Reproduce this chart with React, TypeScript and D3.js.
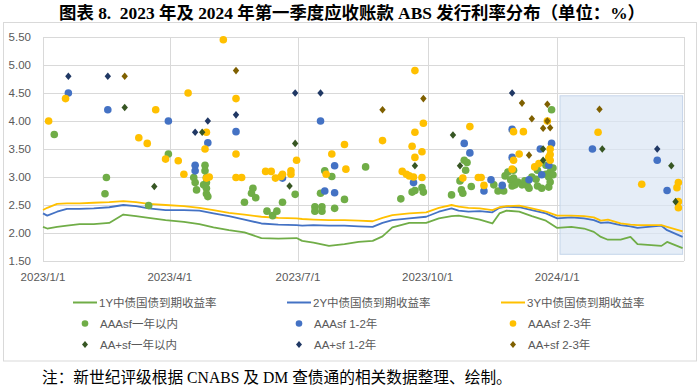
import React from 'react';
import * as d3 from 'd3';

// ---------- data ----------
const lineDates = ['2023-01-01','2023-01-04','2023-01-11','2023-01-18','2023-01-27','2023-02-06','2023-02-17','2023-02-27','2023-03-08','2023-03-17','2023-03-29','2023-04-11','2023-04-22','2023-05-02','2023-05-13','2023-05-24','2023-06-05','2023-06-17','2023-06-30','2023-07-04','2023-07-12','2023-07-23','2023-08-03','2023-08-13','2023-08-23','2023-08-30','2023-09-06','2023-09-18','2023-09-30','2023-10-09','2023-10-18','2023-10-23','2023-10-30','2023-11-07','2023-11-16','2023-11-21','2023-11-26','2023-12-05','2023-12-14','2023-12-24','2024-01-01','2024-01-11','2024-01-20','2024-01-27','2024-02-01','2024-02-06','2024-02-15','2024-02-22','2024-02-27','2024-03-15','2024-03-19','2024-03-30'];
const yield1Y = [2.11,2.08,2.11,2.13,2.16,2.16,2.18,2.33,2.30,2.27,2.23,2.20,2.16,2.10,2.05,2.01,1.91,1.90,1.91,1.86,1.83,1.77,1.80,1.84,1.86,1.94,2.10,2.18,2.18,2.26,2.30,2.31,2.28,2.24,2.17,2.35,2.40,2.38,2.30,2.22,2.09,2.11,2.08,2.02,1.93,1.88,1.88,1.93,1.80,1.77,1.84,1.73];
const yield2Y = [2.35,2.31,2.38,2.43,2.43,2.44,2.46,2.50,2.48,2.44,2.41,2.41,2.40,2.35,2.30,2.24,2.17,2.15,2.14,2.13,2.14,2.13,2.13,2.12,2.11,2.18,2.23,2.26,2.29,2.38,2.44,2.40,2.38,2.39,2.37,2.45,2.47,2.46,2.41,2.35,2.26,2.28,2.26,2.23,2.18,2.19,2.14,2.12,2.09,2.13,2.05,1.93];
const yield3Y = [2.41,2.45,2.52,2.53,2.53,2.54,2.55,2.57,2.55,2.52,2.50,2.48,2.45,2.41,2.36,2.33,2.29,2.27,2.26,2.25,2.24,2.23,2.23,2.22,2.21,2.27,2.32,2.35,2.37,2.45,2.50,2.47,2.45,2.44,2.41,2.46,2.48,2.49,2.44,2.38,2.31,2.31,2.30,2.28,2.22,2.24,2.17,2.15,2.14,2.14,2.11,2.03];

const aaaWithin1Y: [string, number][] = [
  ['2023-01-09',3.76],['2023-02-15',2.99],['2023-02-14',2.70],['2023-03-17',2.49],['2023-03-31',3.41],
  ['2023-04-18',2.99],['2023-04-19',2.90],['2023-04-20',2.77],['2023-04-26',3.21],['2023-04-26',3.11],
  ['2023-04-27',2.99],['2023-04-27',2.90],['2023-04-25',2.86],['2023-04-27',2.80],['2023-04-27',2.70],
  ['2023-04-28',2.65],['2023-05-24',2.55],['2023-05-30',2.80],['2023-05-29',2.71],['2023-06-01',2.63],
  ['2023-06-09',2.39],['2023-06-13',2.31],['2023-06-16',2.39],['2023-06-20',2.55],['2023-06-29',2.69],
  ['2023-07-13',2.47],['2023-07-13',2.39],['2023-07-18',2.47],['2023-07-18',2.39],['2023-07-17',2.71],
  ['2023-07-20',3.11],['2023-07-25',3.01],['2023-07-27',2.44],['2023-08-03',2.60],['2023-08-18',3.18],
  ['2023-09-12',2.61],['2023-09-20',2.73],['2023-09-22',2.76],['2023-09-27',2.81],['2023-09-28',2.73],
  ['2023-10-18',2.68],['2023-10-24',2.93],['2023-10-25',2.77],['2023-10-26',2.71],['2023-10-27',3.30],
  ['2023-10-29',3.26],['2023-10-28',3.12],['2023-11-01',2.83],['2023-11-17',2.86],['2023-11-20',2.75],
  ['2023-11-24',2.75],['2023-11-25',3.02],['2023-11-27',3.09],['2023-11-29',2.95],['2023-11-30',2.84],
  ['2023-12-01',2.98],['2023-12-01',3.12],['2023-12-02',2.86],['2023-12-04',2.91],['2023-12-07',2.86],
  ['2023-12-09',2.93],['2023-12-11',2.84],['2023-12-12',2.80],['2023-12-14',3.00],['2023-12-17',2.96],
  ['2023-12-18',2.84],['2023-12-18',3.12],['2023-12-21',2.80],['2023-12-24',3.05],['2023-12-24',3.21],
  ['2023-12-26',3.00],['2023-12-26',2.82],['2023-12-27',3.09],['2023-12-27',2.91],['2023-12-29',3.04],
  ['2023-12-29',3.16],['2023-12-28',4.20],
];
const aaa1to2Y: [string, number][] = [
  ['2023-01-19',4.50],['2023-02-16',4.20],['2023-03-31',4.00],['2023-04-19',3.21],['2023-04-19',3.11],
  ['2023-04-28',3.61],['2023-05-18',3.81],['2023-06-20',2.98],['2023-07-17',4.00],['2023-07-27',3.20],
  ['2023-07-27',2.72],['2023-07-20',2.75],['2023-09-21',2.90],['2023-10-27',3.60],['2023-10-31',3.43],
  ['2023-11-10',2.75],['2023-11-15',2.95],['2023-11-23',2.85],['2023-11-30',3.85],['2023-11-30',3.35],
  ['2023-12-12',2.95],['2023-12-20',3.50],['2023-12-21',3.04],['2023-12-26',3.21],['2023-12-28',3.60],
  ['2024-01-26',3.50],['2024-03-12',3.30],['2024-03-19',2.76],
];
const aaa2to3Y: [string, number][] = [
  ['2023-01-05',4.00],['2023-01-17',4.40],['2023-03-10',3.70],['2023-03-16',3.60],['2023-03-22',4.20],
  ['2023-03-29',3.32],['2023-04-07',3.29],['2023-04-11',3.05],['2023-04-14',4.50],['2023-05-09',5.45],
  ['2023-04-26',3.50],['2023-04-27',3.80],['2023-04-27',2.98],['2023-04-29',3.00],['2023-05-18',4.40],
  ['2023-05-18',3.41],['2023-05-18',2.99],['2023-05-22',2.99],['2023-06-08',3.10],['2023-06-12',3.10],
  ['2023-06-15',2.98],['2023-06-19',3.01],['2023-06-20',3.05],['2023-06-26',3.11],['2023-06-26',3.05],
  ['2023-06-30',3.30],['2023-07-21',3.05],['2023-07-25',3.41],['2023-08-03',3.58],['2023-08-04',3.14],
  ['2023-08-30',3.65],['2023-09-13',3.10],['2023-09-16',3.05],['2023-09-18',3.02],['2023-09-21',3.00],
  ['2023-09-20',3.55],['2023-09-22',4.90],['2023-09-22',3.80],['2023-09-22',3.35],['2023-09-27',3.45],
  ['2023-09-27',2.99],['2023-09-28',3.96],['2023-10-26',2.98],['2023-10-31',3.90],['2023-11-06',2.99],
  ['2023-11-08',2.99],['2023-11-10',2.85],['2023-12-01',3.81],['2023-12-08',3.81],['2023-12-05',3.41],
  ['2023-12-01',3.30],['2023-11-30',3.14],['2023-12-16',3.18],['2023-12-19',3.24],['2023-12-25',4.00],
  ['2023-12-27',3.50],['2023-12-27',3.40],['2023-12-27',3.30],['2023-12-26',3.35],['2024-01-30',3.80],
  ['2024-03-01',2.87],['2024-03-27',2.90],['2024-03-26',2.81],['2024-03-27',2.56],['2024-03-27',2.45],
];
const aaPlusWithin1Y: [string, number][] = [
  ['2023-02-28',4.24],['2023-03-21',2.83],['2023-04-24',3.80],['2023-06-29',3.60],['2023-06-25',2.84],
  ['2023-09-22',3.20],['2023-10-19',3.75],['2023-10-24',3.20],['2023-12-22',3.50],['2023-12-22',3.30],
  ['2024-02-02',3.50],['2024-03-22',3.20],['2024-03-25',2.56],
];
const aaPlus1to2Y: [string, number][] = [
  ['2023-01-19',4.80],['2023-02-16',4.80],['2023-04-19',3.80],['2023-04-28',4.00],['2023-05-18',4.11],
  ['2023-06-29',4.50],['2023-07-17',4.50],['2023-11-30',4.50],['2024-03-12',3.50],
];
const aaPlus2to3Y: [string, number][] = [
  ['2023-02-28',4.80],['2023-05-18',4.90],['2023-08-30',4.20],['2023-09-28',4.40],['2023-12-07',4.32],
  ['2023-12-14',4.04],['2023-12-12',3.39],['2023-12-22',3.87],['2023-12-25',4.30],['2023-12-25',4.00],
  ['2023-12-27',3.88],['2024-01-31',4.21],
];

const xDomain = ['2023-01-01', '2024-03-31'];
const yDomain = [1.5, 5.5];
const yTickValues = [1.5, 2.0, 2.5, 3.0, 3.5, 4.0, 4.5, 5.0, 5.5];
const xTickDates = ['2023-01-01', '2023-04-01', '2023-07-01', '2023-10-01', '2024-01-01'];
const xTickLabels = ['2023/1/1', '2023/4/1', '2023/7/1', '2023/10/1', '2024/1/1'];
const highlightDates = ['2024-01-03', '2024-03-30'];
const highlightValues = [1.62, 4.45];

const lineSeries = [
  { name: '1Y中债国债到期收益率', values: yield1Y, color: '#70AD47' },
  { name: '2Y中债国债到期收益率', values: yield2Y, color: '#4472C4' },
  { name: '3Y中债国债到期收益率', values: yield3Y, color: '#FFC000' },
];
const pointSeries = [
  { name: 'AAAsf一年以内', data: aaaWithin1Y, color: '#70AD47', shape: 'circle' },
  { name: 'AAAsf 1-2年', data: aaa1to2Y, color: '#4472C4', shape: 'circle' },
  { name: 'AAAsf 2-3年', data: aaa2to3Y, color: '#FFC000', shape: 'circle' },
  { name: 'AA+sf一年以内', data: aaPlusWithin1Y, color: '#375623', shape: 'diamond' },
  { name: 'AA+sf 1-2年', data: aaPlus1to2Y, color: '#203864', shape: 'diamond' },
  { name: 'AA+sf 2-3年', data: aaPlus2to3Y, color: '#7F6000', shape: 'diamond' },
];

// ---------- layout ----------
const W = 700, H = 386;
const plot = { left: 43, right: 684, top: 37, bottom: 261 };
const parse = d3.timeParse('%Y-%m-%d');
const axisFont = "'Liberation Sans', 'Noto Sans CJK SC', sans-serif";
const serifFont = "'Liberation Serif', 'Noto Sans CJK SC', serif";
const textGrey = '#595959';
const gridColor = '#d9d9d9';

const diamondPath = (cx: number, cy: number, hw: number, hh: number) =>
  `M${cx},${cy - hh}L${cx + hw},${cy}L${cx},${cy + hh}L${cx - hw},${cy}Z`;

export default function App() {
  const x = d3.scaleTime()
    .domain(xDomain.map((d) => parse(d) as Date))
    .range([plot.left, plot.right]);
  const y = d3.scaleLinear().domain(yDomain).range([plot.bottom, plot.top]);
  const dates = lineDates.map((d) => parse(d) as Date);
  const line = d3.line<number>()
    .x((_, i) => x(dates[i]))
    .y((v) => y(v));

  const legendCols = [85, 299, 513];
  const legendRows = [302.5, 323.5, 344.5];

  const hx0 = x(parse(highlightDates[0]) as Date);
  const hx1 = x(parse(highlightDates[1]) as Date);
  const hy0 = y(highlightValues[1]);
  const hy1 = y(highlightValues[0]);

  return (
    <svg width={W} height={H} style={{ position: 'absolute', left: 0, top: 0, background: '#fff' }}>
      <rect x={0} y={0} width={W} height={H} fill="#fff" />
      <text x={352} y={19} textAnchor="middle" fontFamily={serifFont} fontWeight="bold" fontSize={17.4} fill="#000" style={{ whiteSpace: 'pre' }}>
        {'图表 8.  2023 年及 2024 年第一季度应收账款 ABS 发行利率分布（单位：%）'}
      </text>
      <rect x={3.5} y={22.5} width={693} height={338.5} fill="#fff" stroke={gridColor} strokeWidth={1} />

      {/* grid */}
      {yTickValues.map((v) => (
        <line key={'gy' + v} x1={plot.left} x2={plot.right} y1={Math.round(y(v)) + 0.5} y2={Math.round(y(v)) + 0.5} stroke={gridColor} />
      ))}
      {xTickDates.map((d) => {
        const px = Math.round(x(parse(d) as Date)) + 0.5;
        return <line key={'gx' + d} x1={px} x2={px} y1={plot.top} y2={plot.bottom} stroke={gridColor} />;
      })}
      <line x1={plot.right + 0.5} x2={plot.right + 0.5} y1={plot.top} y2={plot.bottom} stroke={gridColor} />

      {/* highlight */}
      <rect x={hx0} y={hy0} width={hx1 - hx0} height={hy1 - hy0} fill="#dae5f3" fillOpacity={0.7} stroke="#c5d5ea" strokeWidth={1} />

      {/* axis labels */}
      {yTickValues.map((v) => (
        <text key={'ty' + v} x={31} y={y(v)} dy="0.35em" textAnchor="end" fontFamily={axisFont} fontSize={11.5} fill={textGrey}>
          {d3.format('.2f')(v)}
        </text>
      ))}
      {xTickDates.map((d, i) => (
        <text key={'tx' + d} x={x(parse(d) as Date)} y={277} dy="0.35em" textAnchor="middle" fontFamily={axisFont} fontSize={11.5} fill={textGrey}>
          {xTickLabels[i]}
        </text>
      ))}

      {/* lines */}
      {lineSeries.map((s) => (
        <path key={s.name} d={line(s.values) || ''} fill="none" stroke={s.color} strokeWidth={1.8} strokeLinejoin="round" />
      ))}

      {/* points */}
      {pointSeries.map((s) => (
        <g key={s.name}>
          {s.data.map(([d, v], i) => {
            const cx = x(parse(d) as Date);
            const cy = y(v);
            return s.shape === 'circle'
              ? <circle key={i} cx={cx} cy={cy} r={3.8} fill={s.color} />
              : <path key={i} d={diamondPath(cx, cy, 3.2, 3.8)} fill={s.color} />;
          })}
        </g>
      ))}

      {/* legend */}
      {lineSeries.map((s, i) => (
        <g key={'ll' + s.name}>
          <line x1={legendCols[i] - 12} x2={legendCols[i] + 12} y1={legendRows[0]} y2={legendRows[0]} stroke={s.color} strokeWidth={2} />
          <text x={legendCols[i] + 14} y={legendRows[0]} dy="0.35em" fontFamily={axisFont} fontSize={11.5} fill={textGrey}>{s.name}</text>
        </g>
      ))}
      {pointSeries.map((s, i) => {
        const cx = legendCols[i % 3];
        const cy = legendRows[1 + Math.floor(i / 3)];
        return (
          <g key={'lp' + s.name}>
            {s.shape === 'circle'
              ? <circle cx={cx} cy={cy} r={3.3} fill={s.color} />
              : <path d={diamondPath(cx, cy, 3, 3.5)} fill={s.color} />}
            <text x={cx + 15} y={cy} dy="0.35em" fontFamily={axisFont} fontSize={11.5} fill={textGrey}>{s.name}</text>
          </g>
        );
      })}

      <text x={42} y={383} fontFamily={serifFont} fontSize={15.7} fill="#000">
        注：新世纪评级根据 CNABS 及 DM 查债通的相关数据整理、绘制。
      </text>
    </svg>
  );
}
